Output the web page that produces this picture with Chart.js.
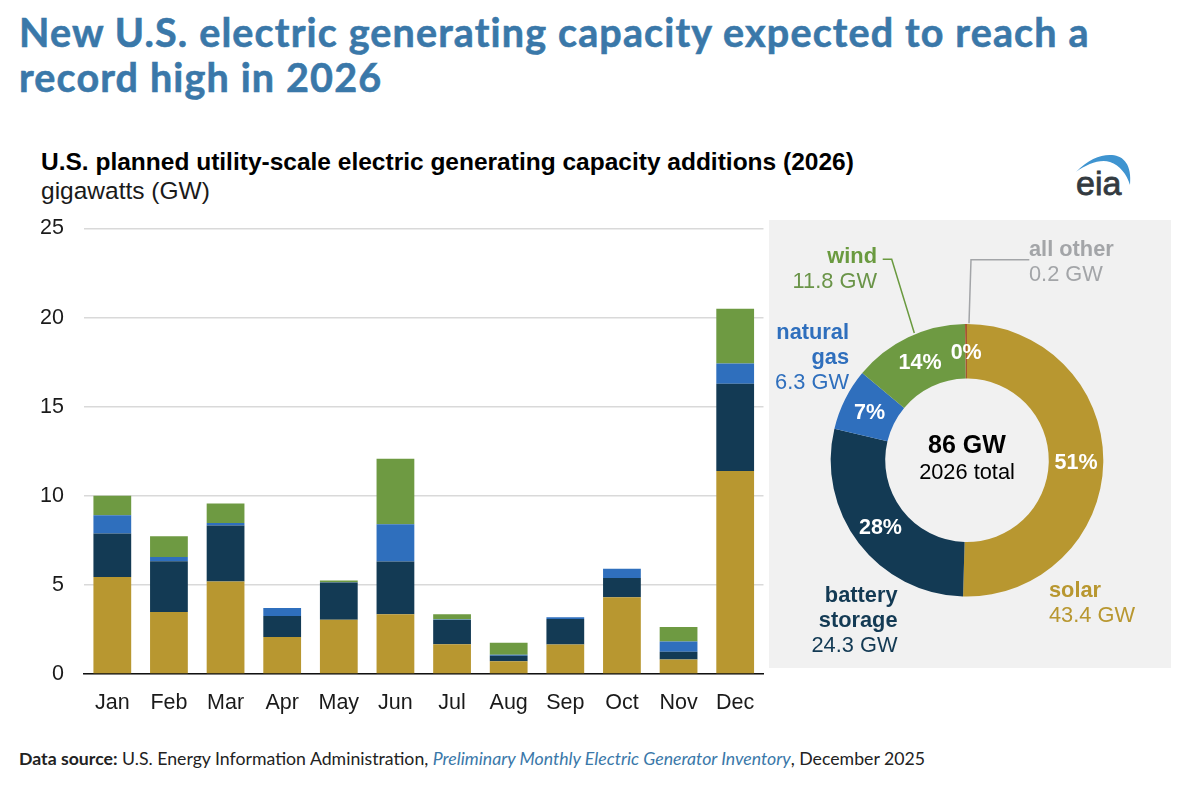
<!DOCTYPE html>
<html>
<head>
<meta charset="utf-8">
<title>New U.S. electric generating capacity</title>
<script src="https://cdn.jsdelivr.net/npm/chart.js@4"></script>
<style>
  body { margin: 0; background: #fff; width: 1200px; height: 790px; overflow: hidden; position: relative; }
  .abs { position: absolute; white-space: nowrap; }
  #headline { left: 19px; top: 9px; font: 700 39.5px/45px Lato, sans-serif; color: #3a78a9; letter-spacing: 1.15px; -webkit-text-stroke: 0.6px #3a78a9; }
  #chartTitle { left: 41px; top: 148px; font: 700 24.5px/28px "Liberation Sans", sans-serif; color: #000; }
  #chartUnits { left: 41px; top: 177px; font: 400 24.5px/28px "Liberation Sans", sans-serif; color: #1a1a1a; }
  #source { left: 19px; top: 748px; font: 400 17.7px/22px Lato, sans-serif; color: #222; }
  #source em { color: #3a78a9; }
  #barChart { position: absolute; left: 0; top: 210px; }
  #donutChart { position: absolute; left: 769px; top: 220px; }
  #logo { position: absolute; left: 1060px; top: 145px; }
</style>
</head>
<body>
<div id="headline" class="abs">New U.S. electric generating capacity expected to reach a<br>record high in 2026</div>
<div id="chartTitle" class="abs">U.S. planned utility-scale electric generating capacity additions (2026)</div>
<div id="chartUnits" class="abs">gigawatts (GW)</div>
<canvas id="barChart" width="768" height="510"></canvas>
<canvas id="donutChart" width="402" height="448"></canvas>
<svg id="logo" width="85" height="60" viewBox="0 0 85 60">
  <path d="M16 27 C28 14 42 9 52 10 C64 11 72 20 70 40 C67 30 60 20 50 17 C40 14 27 19 16 27 Z" fill="#3f94d0"/>
  <text x="16" y="50" font-family="Liberation Sans" font-size="34" fill="#333a40" stroke="#333a40" stroke-width="0.8">eia</text>
</svg>
<div id="source" class="abs"><b>Data source:</b> U.S. Energy Information Administration, <em>Preliminary Monthly Electric Generator Inventory</em>, December 2025</div>

<script>
const months = ['Jan', 'Feb', 'Mar', 'Apr', 'May', 'Jun', 'Jul', 'Aug', 'Sep', 'Oct', 'Nov', 'Dec'];
const solar = [5.45, 3.48, 5.19, 2.08, 3.05, 3.35, 1.67, 0.71, 1.65, 4.31, 0.82, 11.39];
const battery = [2.43, 2.85, 3.14, 1.18, 2.08, 2.96, 1.36, 0.32, 1.44, 1.08, 0.43, 4.90];
const gas = [1.03, 0.24, 0.15, 0.45, 0.02, 2.10, 0.03, 0.05, 0.09, 0.51, 0.57, 1.14];
const wind = [1.09, 1.16, 1.09, 0, 0.09, 3.67, 0.29, 0.67, 0, 0, 0.82, 3.07];

const shareNames = ['solar', 'battery storage', 'natural gas', 'wind', 'all other'];
const shareValues = [43.4, 24.3, 6.3, 11.8, 0.2];
const shareLabels = ['51%', '28%', '7%', '14%', '0%'];

const SOLAR = '#b89730', BATTERY = '#133a54', GAS = '#2f6fbd', WIND = '#6e9a42', OTHER = '#a6552f';
const ARIAL = '"Liberation Sans", sans-serif';

function renderBarChart() {
    new Chart(document.getElementById('barChart'), {
        type: 'bar',
        data: {
            labels: months,
            datasets: [
                { label: 'solar', data: solar, backgroundColor: SOLAR },
                { label: 'battery storage', data: battery, backgroundColor: BATTERY },
                { label: 'natural gas', data: gas, backgroundColor: GAS },
                { label: 'wind', data: wind, backgroundColor: WIND }
            ]
        },
        options: {
            responsive: false,
            animation: false,
            barPercentage: 0.667,
            categoryPercentage: 1,
            layout: { autoPadding: false, padding: { top: 18.5, right: 4.5 } },
            plugins: { legend: { display: false }, tooltip: { enabled: false } },
            scales: {
                x: {
                    stacked: true,
                    grid: { display: false },
                    border: { display: true, color: '#111', width: 1.5 },
                    ticks: { color: '#1a1a1a', font: { family: ARIAL, size: 21.5 }, padding: 8, maxRotation: 0, autoSkip: false },
                    afterFit: function(scale) { scale.height = 46; }
                },
                y: {
                    stacked: true,
                    min: 0,
                    max: 25,
                    ticks: { stepSize: 5, color: '#1a1a1a', font: { family: ARIAL, size: 21.5 }, padding: 0 },
                    // invisible tick marks hold the labels 20px off the plot
                    grid: { color: '#d9d9d9', lineWidth: 1.5, drawTicks: true, tickLength: 20, tickColor: 'transparent' },
                    border: { display: false },
                    afterFit: function(scale) { scale.width = 84; }
                }
            }
        }
    });
}

// percent labels sit on the slices, callouts and the total go around the ring
const donutText = {
    id: 'donutText',
    afterDatasetsDraw(chart) {
        const c = chart.ctx;
        c.save();
        c.textBaseline = 'middle';
        c.textAlign = 'center';
        c.fillStyle = '#fff';
        c.font = 'bold 21.5px ' + ARIAL;
        chart.getDatasetMeta(0).data.forEach(function(arc, i) {
            const p = arc.tooltipPosition();
            c.fillText(shareLabels[i], p.x, p.y + 1.5);
        });
        const mid = chart.getDatasetMeta(0).data[0];
        c.fillStyle = '#000';
        c.font = 'bold 25px ' + ARIAL;
        c.fillText('86 GW', mid.x, mid.y - 14.5);
        c.font = '21.8px ' + ARIAL;
        c.fillText('2026 total', mid.x, mid.y + 12.5);

        function callout(lines, x, y, align, color, valueColor) {
            c.textAlign = align;
            lines.forEach(function(l, i) {
                c.fillStyle = l.bold ? color : valueColor;
                c.font = (l.bold ? 'bold ' : '') + '21.8px ' + ARIAL;
                c.fillText(l.text, x, y + i * 25);
            });
        }
        callout([{ text: 'wind', bold: true }, { text: '11.8 GW' }], 108, 37, 'right', '#6a9a3f', '#6a9448');
        callout([{ text: 'all other', bold: true }, { text: '0.2 GW' }], 260, 30, 'left', '#a3a5a8', '#a3a5a8');
        callout([{ text: 'natural', bold: true }, { text: 'gas', bold: true }, { text: '6.3 GW' }], 80, 113, 'right', GAS, GAS);
        callout([{ text: 'battery', bold: true }, { text: 'storage', bold: true }, { text: '24.3 GW' }], 128.5, 376, 'right', BATTERY, BATTERY);
        callout([{ text: 'solar', bold: true }, { text: '43.4 GW' }], 280, 371, 'left', SOLAR, SOLAR);

        c.lineWidth = 1.5;
        c.strokeStyle = '#6a9a3f';
        c.beginPath();
        c.moveTo(113.7, 39.3);
        c.lineTo(122.7, 39.3);
        c.lineTo(145.3, 113);
        c.stroke();
        c.strokeStyle = '#a3a5a8';
        c.beginPath();
        c.moveTo(260.3, 39.7);
        c.lineTo(202, 39.7);
        c.lineTo(200, 103.3);
        c.stroke();
        c.restore();
    }
};

function renderDonutChart() {
    new Chart(document.getElementById('donutChart'), {
        type: 'doughnut',
        data: {
            labels: shareNames,
            datasets: [{
                data: shareValues,
                backgroundColor: [SOLAR, BATTERY, GAS, WIND, OTHER],
                borderWidth: 0
            }]
        },
        options: {
            responsive: false,
            animation: false,
            cutout: '60%',
            layout: { padding: { left: 61.7, right: 67.7, top: 104, bottom: 71.4 } },
            plugins: { legend: { display: false }, tooltip: { enabled: false } }
        },
        plugins: [{
            id: 'panel',
            beforeDraw(chart) {
                chart.ctx.fillStyle = '#f1f1f1';
                chart.ctx.fillRect(0, 0, chart.width, chart.height);
            }
        }, donutText]
    });
}

renderBarChart();
renderDonutChart();
</script>
</body>
</html>
